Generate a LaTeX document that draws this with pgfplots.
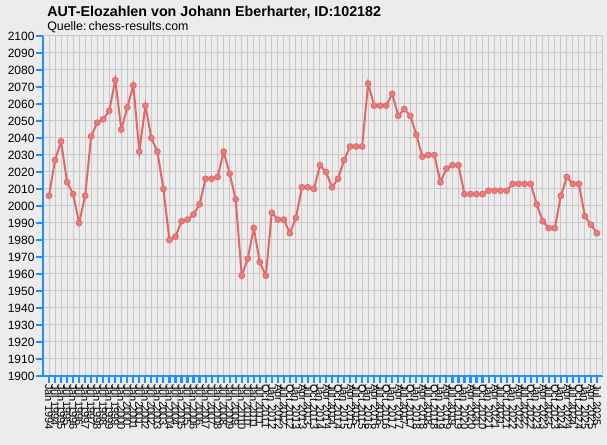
\documentclass[border=0pt]{standalone}
\usepackage{fontspec}
\setmainfont{Liberation Sans}
\usepackage{pgfplots}
\pgfplotsset{compat=1.18}
\definecolor{bg}{RGB}{236,236,236}
\definecolor{gridc}{RGB}{200,200,200}
\definecolor{axblue}{RGB}{30,144,255}
\definecolor{linered}{RGB}{224,104,104}
\definecolor{markred}{RGB}{234,124,124}
\begin{document}
\begin{tikzpicture}
\fill[bg] (0,0) rectangle (455.25pt,333.75pt);
\useasboundingbox (0,0) rectangle (455.25pt,333.75pt);
\node[anchor=base west, inner sep=0pt, font=\bfseries\fontsize{10.7}{12}\selectfont] at (35.25pt,321pt) {AUT-Elozahlen von Johann Eberharter, ID:102182};
\node[anchor=base west, inner sep=0pt, font=\fontsize{9.3}{11}\selectfont] at (35.25pt,310.5pt) {Quelle:\,chess-results.com};
\begin{axis}[
  at={(32.25pt,51.75pt)}, anchor=south west,
  scale only axis, width=420pt, height=255pt,
  xmin=-1, xmax=92, ymin=1900, ymax=2100,
  ytick distance=10,
  xtick={0,...,91},
  xticklabels={Jan 1994, Jul 1994, Jan 1995, Jul 1995, Jan 1996, Jul 1996, Jan 1997, Jul 1997, Jan 1998, Jul 1998, Jan 1999, Jul 1999, Jan 2000, Jul 2000, Jan 2001, Jul 2001, Jan 2002, Jul 2002, Jan 2003, Jul 2003, Jan 2004, Jul 2004, Jan 2005, Jul 2005, Jan 2006, Jul 2006, Jan 2007, Jul 2007, Jan 2008, Jul 2008, Jan 2009, Jul 2009, Jan 2010, Jul 2010, Jan 2011, Jul 2011,
  Oct 2011, Jan 2012, Apr 2012, Jul 2012, Oct 2012, Jan 2013, Apr 2013, Jul 2013, Oct 2013, Jan 2014, Apr 2014, Jul 2014, Oct 2014, Jan 2015, Apr 2015, Jul 2015, Oct 2015, Jan 2016, Apr 2016, Jul 2016, Oct 2016, Jan 2017, Apr 2017, Jul 2017, Oct 2017, Jan 2018, Apr 2018, Jul 2018, Oct 2018, Jan 2019, Apr 2019, Jul 2019, Oct 2019, Jan 2020, Apr 2020, Jul 2020, Oct 2020, Jan 2021, Apr 2021, Jul 2021, Oct 2021, Jan 2022, Apr 2022, Jul 2022, Oct 2022, Jan 2023, Apr 2023, Jul 2023, Oct 2023, Jan 2024, Apr 2024, Jul 2024, Oct 2024, Jan 2025, Apr 2025, Jul 2025},
  extra x ticks={92}, extra x tick labels={}, extra x tick style={major tick length=0pt},
  axis x line=bottom, axis y line=left,
  axis line style={axblue, line width=1.5pt, -},
  tick align=outside, major tick length=5pt,
  tick style={axblue, line width=1.6pt},
  grid=major, major grid style={gridc, line width=0.75pt},
  /pgf/number format/assume math mode=true,
  /pgf/number format/set thousands separator={},
  yticklabel style={font=\fontsize{9}{10}\selectfont, inner sep=1.2pt},
  xticklabel style={rotate=-90, anchor=west, inner sep=1pt, font=\fontsize{8.3}{9}\selectfont},
  clip=false,
]
\addplot[color=linered, line width=1.5pt, mark=*, mark size=2.2pt, mark options={fill=markred, draw=linered, line width=0.6pt}] coordinates {
(0,2006) (1,2027) (2,2038) (3,2014) (4,2007) (5,1990) (6,2006) (7,2041) (8,2049) (9,2051)
(10,2056) (11,2074) (12,2045) (13,2058) (14,2071) (15,2032) (16,2059) (17,2040) (18,2032) (19,2010)
(20,1980) (21,1982) (22,1991) (23,1992) (24,1995) (25,2001) (26,2016) (27,2016) (28,2017) (29,2032)
(30,2019) (31,2004) (32,1959) (33,1969) (34,1987) (35,1967) (36,1959) (37,1996) (38,1992) (39,1992)
(40,1984) (41,1993) (42,2011) (43,2011) (44,2010) (45,2024) (46,2020) (47,2011) (48,2016) (49,2027)
(50,2035) (51,2035) (52,2035) (53,2072) (54,2059) (55,2059) (56,2059) (57,2066) (58,2053) (59,2057)
(60,2053) (61,2042) (62,2029) (63,2030) (64,2030) (65,2014) (66,2022) (67,2024) (68,2024) (69,2007)
(70,2007) (71,2007) (72,2007) (73,2009) (74,2009) (75,2009) (76,2009) (77,2013) (78,2013) (79,2013)
(80,2013) (81,2001) (82,1991) (83,1987) (84,1987) (85,2006) (86,2017) (87,2013) (88,2013) (89,1994)
(90,1989) (91,1984)
};
\end{axis}
\end{tikzpicture}
\end{document}
